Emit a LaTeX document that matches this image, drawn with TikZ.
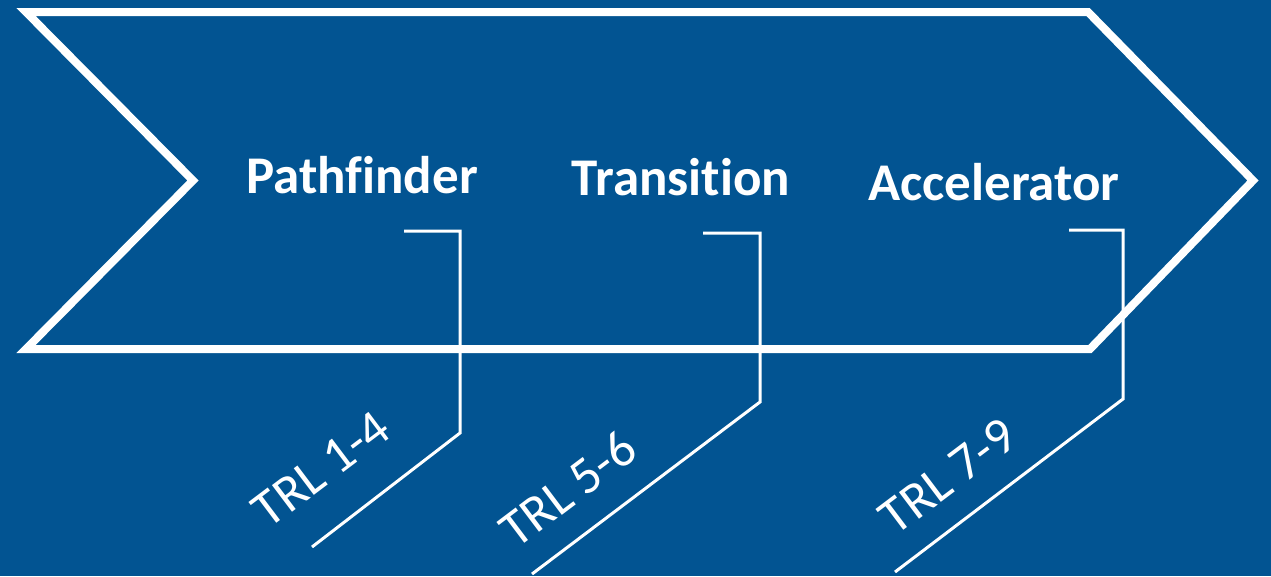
\documentclass[tikz,border=0pt]{standalone}
\usepackage{fontspec}
\setmainfont[Ligatures=NoCommon]{Carlito}
\definecolor{bgblue}{RGB}{2,84,146}
\tikzset{
  phase/.style={text=white, font=\bfseries\fontsize{53}{60}\selectfont, anchor=base, inner sep=0pt},
  trl/.style={text=white, font=\fontsize{52}{60}\selectfont, rotate=37, inner sep=0pt},
  bracket/.style={white, line width=3pt, line join=miter}
}
\begin{document}
\begin{tikzpicture}[x=1pt, y=-1pt]
\fill[bgblue] (0,0) rectangle (1271,576);
% chevron
\draw[white, line width=8pt, line join=miter] (26,12) -- (1088,12) -- (1253,180.5) -- (1090,349) -- (26,349) -- (193,180.5) -- cycle;

\node[phase] (pf) at (362,193) {Pathfinder};
\node[phase] (tr) at (681,195) {Transition};
\node[phase] (ac) at (994,200) {Accelerator};

\node[trl] (trl1) at (321,469) {TRL 1-4};
\node[trl] (trl2) at (568,489) {TRL 5-6};
\node[trl] (trl3) at (948,476) {TRL 7-9};

\begin{scope}[bracket]
\coordinate (a) at (404,231);
	\draw (a) -| (460,433) -- (312,547);
\coordinate (b) at (703,233);
	\draw (b) -| (760,402) -- (532,574);
\coordinate (c) at (1069,230);
	\draw (c) -| (1123,399) -- (895,572);
\end{scope}
\end{tikzpicture}
\end{document}
